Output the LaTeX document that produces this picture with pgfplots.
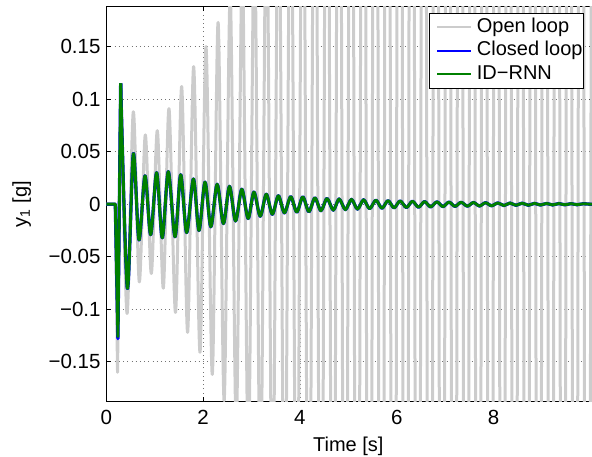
\documentclass[border=0pt]{standalone}
\usepackage{fontspec}
\setmainfont{Liberation Sans}
\usepackage{pgfplots}
\pgfplotsset{compat=1.18}
\definecolor{olgray}{RGB}{204,204,204}
\definecolor{clblue}{RGB}{0,0,255}
\definecolor{rnngreen}{RGB}{0,128,0}

\begin{document}
\begin{tikzpicture}
\begin{axis}[
  at={(106.3pt,54.3pt)}, anchor=south west,
  scale only axis, width=487pt, height=395pt,
  xmin=0, xmax=10.062, ymin=-0.188, ymax=0.188,
  xtick={0,2,4,6,8}, xticklabels={0,2,4,6,8},
  ytick={-0.15,-0.1,-0.05,0,0.05,0.1,0.15},
  yticklabels={−0.15,−0.1,−0.05,0,0.05,0.1,0.15},
  tick align=inside, major tick length=4.8pt,
  grid=major,
  major grid style={black!55, line width=0.6pt, dash pattern=on 0.6pt off 3.6pt},
  axis line style={black, line width=0.9pt},
  every tick/.style={black, line width=0.9pt},
  font=\fontsize{20}{24}\selectfont,
  tick label style={font=\fontsize{20.5}{24}\selectfont},
  label style={font=\fontsize{22}{26}\selectfont},
  xticklabel style={anchor=north, inner sep=0pt, yshift=-8.3pt},
  yticklabel style={anchor=east, inner sep=0pt, xshift=-5.6pt},
  xlabel={Time [s]},
  ylabel={y\textsubscript{1} [g]},
  every axis x label/.style={at={(axis description cs:0.5,-0.12734)}, anchor=base, xshift=-1.5pt},
  every axis y label/.style={at={(axis description cs:-0.16324,0.5)}, anchor=base, rotate=90},
  legend style={at={(0.9815,0.985)}, anchor=north east, draw=black, line width=0.9pt,
    fill=white, inner xsep=0.8pt, inner ysep=2.8pt, column sep=4pt,
    font=\fontsize{20}{24}\selectfont,
    nodes={inner xsep=0.5pt, inner ysep=2.2pt, text height=14.6pt, text depth=4.2pt}},
  legend cell align=left,
  legend image code/.code={\path (0pt,0pt); \draw[#1, line width=2pt] (5.7pt,0pt) -- (39.7pt,0pt);},
]
% open loop: step response of the uncontrolled structure
\addplot[olgray, line width=3pt, line join=round, forget plot] coordinates {
  (0,0) (0.186,0) (0.232,-0.160) (0.300,0.115)};
\addplot[olgray, line width=3pt, line join=round, smooth] coordinates {
  (0.300,0.115) (0.428,-0.104) (0.558,0.088) (0.682,-0.074) (0.806,0.066)
  (0.930,-0.066) (1.054,0.070) (1.178,-0.080) (1.295,0.091) (1.430,-0.103)
  (1.557,0.112) (1.680,-0.122) (1.805,0.131) (1.936,-0.141) (2.060,0.150)
  (2.190,-0.162) (2.310,0.173) (2.435,-0.187) (2.560,0.200) (2.685,-0.215)
  (2.810,0.230) (2.935,-0.247) (3.060,0.265) (3.185,-0.284) (3.310,0.305)
  (3.435,-0.327) (3.560,0.350) (3.685,-0.375) (3.810,0.400) (3.935,-0.430)
  (4.060,0.460) (4.185,-0.490) (4.310,0.530) (4.435,-0.570) (4.560,0.610)
  (4.685,-0.650) (4.810,0.700) (4.935,-0.750) (5.060,0.800) (5.185,-0.860)
  (5.310,0.920) (5.435,-0.990) (5.560,1.060) (5.685,-1.130) (5.810,1.200)
  (5.935,-1.2) (6.060,1.2) (6.185,-1.2) (6.310,1.2) (6.435,-1.2)
  (6.560,1.2) (6.685,-1.2) (6.810,1.2) (6.935,-1.2) (7.060,1.2)
  (7.185,-1.2) (7.310,1.2) (7.435,-1.2) (7.560,1.2) (7.685,-1.2)
  (7.810,1.2) (7.935,-1.2) (8.060,1.2) (8.185,-1.2) (8.310,1.2)
  (8.435,-1.2) (8.560,1.2) (8.685,-1.2) (8.810,1.2) (8.935,-1.2)
  (9.060,1.2) (9.185,-1.2) (9.310,1.2) (9.435,-1.2) (9.560,1.2)
  (9.685,-1.2) (9.810,1.2) (9.935,-1.2) (10.060,1.2)};
\addlegendentry{Open loop}

% closed loop response
\addplot[clblue, line width=3.3pt, line join=round, forget plot] coordinates {
  (0,0) (0.186,0) (0.240,-0.128) (0.297,0.115)};
\addplot[clblue, line width=3.3pt, line join=round, smooth] coordinates {
  (0.297,0.115) (0.434,-0.080) (0.558,0.048) (0.675,-0.034) (0.800,0.027)
  (0.917,-0.029) (1.040,0.030) (1.157,-0.032) (1.281,0.031) (1.420,-0.031)
  (1.537,0.028) (1.660,-0.027) (1.800,0.024) (1.915,-0.025) (2.040,0.021)
  (2.160,-0.0216) (2.290,0.019) (2.420,-0.0185) (2.545,0.017) (2.670,-0.016)
  (2.800,0.0143) (2.930,-0.0137) (3.050,0.0115) (3.180,-0.0115) (3.305,0.0095)
  (3.430,-0.0096) (3.555,0.0080) (3.680,-0.0083) (3.810,0.0072) (3.935,-0.0076)
  (4.060,0.0070) (4.185,-0.0072) (4.310,0.0060) (4.435,-0.0062) (4.560,0.0055)
  (4.690,-0.0057) (4.810,0.0050) (4.940,-0.0052) (5.065,0.0046) (5.190,-0.0047)
  (5.315,0.0042) (5.440,-0.0043) (5.570,0.0038) (5.695,-0.0039) (5.820,0.0034)
  (5.945,-0.0035) (6.070,0.0031) (6.200,-0.0032) (6.325,0.0028) (6.450,-0.0029)
  (6.575,0.0025) (6.700,-0.0026) (6.830,0.0022) (6.955,-0.0023) (7.080,0.0020)
  (7.205,-0.0021) (7.330,0.0018) (7.460,-0.0019) (7.585,0.0016) (7.710,-0.0017)
  (7.835,0.0014) (7.960,-0.0015) (8.090,0.0012) (8.215,-0.0013) (8.340,0.0011)
  (8.465,-0.0011) (8.590,0.0010) (8.720,-0.0010) (8.845,0.0008) (8.970,-0.0008)
  (9.095,0.0007) (9.220,-0.0007) (9.350,0.0006) (9.475,-0.0006) (9.600,0.0005)
  (9.725,-0.0005) (9.850,0.0004) (9.990,0) (10.060,0)};
\addlegendentry{Closed loop}

% identified recurrent network model
\addplot[rnngreen, line width=2.9pt, line join=round, forget plot] coordinates {
  (0,0) (0.186,0) (0.240,-0.126) (0.297,0.115)};
\addplot[rnngreen, line width=2.9pt, line join=round, smooth] coordinates {
  (0.297,0.115) (0.434,-0.080) (0.558,0.048) (0.675,-0.034) (0.800,0.027)
  (0.917,-0.029) (1.040,0.030) (1.157,-0.032) (1.281,0.031) (1.420,-0.031)
  (1.537,0.028) (1.660,-0.027) (1.800,0.024) (1.915,-0.025) (2.040,0.021)
  (2.160,-0.0215) (2.290,0.019) (2.420,-0.0185) (2.545,0.017) (2.670,-0.016)
  (2.800,0.0142) (2.930,-0.0136) (3.050,0.0115) (3.180,-0.0114) (3.305,0.0095)
  (3.430,-0.0095) (3.555,0.0080) (3.680,-0.0082) (3.810,0.0072) (3.935,-0.0075)
  (4.060,0.0069) (4.185,-0.0071) (4.310,0.0060) (4.435,-0.0062) (4.560,0.0055)
  (4.690,-0.0057) (4.810,0.0050) (4.940,-0.0052) (5.065,0.0046) (5.190,-0.0047)
  (5.315,0.0042) (5.440,-0.0043) (5.570,0.0038) (5.695,-0.0039) (5.820,0.0034)
  (5.945,-0.0035) (6.070,0.0031) (6.200,-0.0032) (6.325,0.0028) (6.450,-0.0029)
  (6.575,0.0025) (6.700,-0.0026) (6.830,0.0022) (6.955,-0.0023) (7.080,0.0020)
  (7.205,-0.0021) (7.330,0.0018) (7.460,-0.0019) (7.585,0.0016) (7.710,-0.0017)
  (7.835,0.0014) (7.960,-0.0015) (8.090,0.0012) (8.215,-0.0013) (8.340,0.0011)
  (8.465,-0.0011) (8.590,0.0010) (8.720,-0.0010) (8.845,0.0008) (8.970,-0.0008)
  (9.095,0.0007) (9.220,-0.0007) (9.350,0.0006) (9.475,-0.0006) (9.600,0.0005)
  (9.725,-0.0005) (9.850,0.0004) (9.990,0) (10.060,0)};
\addlegendentry{ID−RNN}
\end{axis}
\pgfresetboundingbox
\useasboundingbox (0,0) rectangle (592pt,456pt);
\end{tikzpicture}
\end{document}
